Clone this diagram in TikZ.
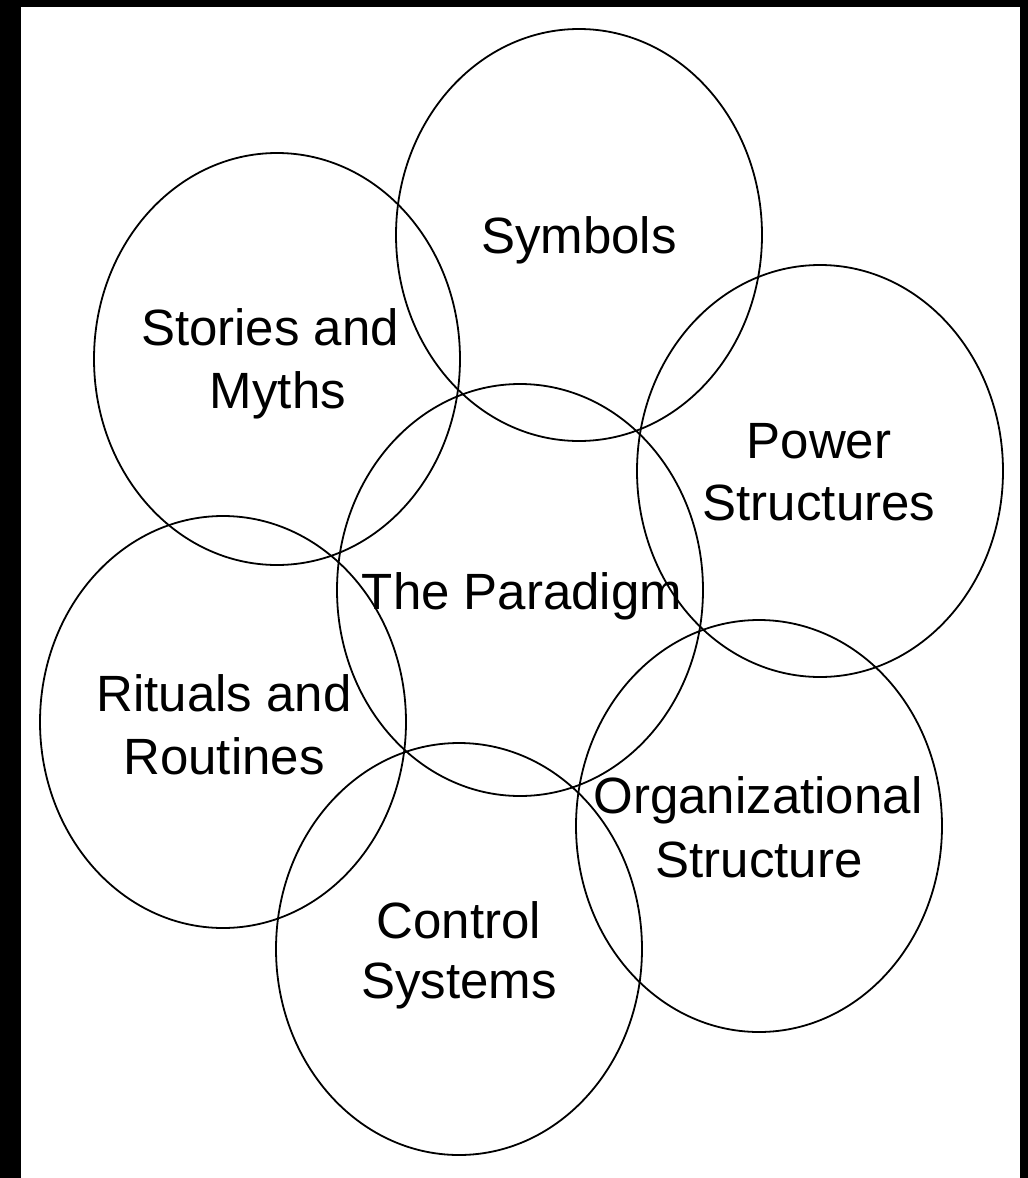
\documentclass[tikz,border=0pt]{standalone}
\usepackage{fontspec}
\setmainfont{Liberation Sans}
\usetikzlibrary{shapes.geometric}
\begin{document}
\begin{tikzpicture}[x=1pt,y=-1pt,
  blob/.style={draw=black, ellipse, line width=1.8pt, inner sep=0pt,
               minimum width=366pt, minimum height=412pt},
  word/.style={anchor=base, inner sep=0pt,
               font=\fontsize{51}{60}\selectfont}]
  % frame and page
  \fill[black] (0,0) rectangle (1028,1178);
  \fill[white] (21,7) rectangle (1020,1178);
  \useasboundingbox (0,0) rectangle (1028,1178);

  % the seven overlapping elements
  \node[blob] (sym) at (579,235) {};
  \node[blob] (sto) at (277,359) {};
  \node[blob] (pow) at (820,471) {};
  \node[blob] (par) at (520,590) {};
  \node[blob] (rit) at (223,722) {};
  \node[blob] (org) at (759,826) {};
  \node[blob] (con) at (459,949) {};

  % labels
  \node[word] (symA) at (579,253) {Symbols};
  \node[word] (stoA) at (270,345) {Stories and};
  \node[word] (stoB) at (278,408) {Myths};
  \node[word] (powA) at (819,458) {Power};
  \node[word] (powB) at (819,520) {Structures};
  \node[word] (parA) at (522,609) {The Paradigm};
  \node[word] (ritA) at (224,711) {Rituals and};
  \node[word] (ritB) at (224,774) {Routines};
  \node[word] (orgA) at (758,813) {Organizational};
  \node[word] (orgB) at (759,877) {Structure};
  \node[word] (conA) at (459,938) {Control};
  \node[word] (conB) at (459,998) {Systems};
\end{tikzpicture}
\end{document}
